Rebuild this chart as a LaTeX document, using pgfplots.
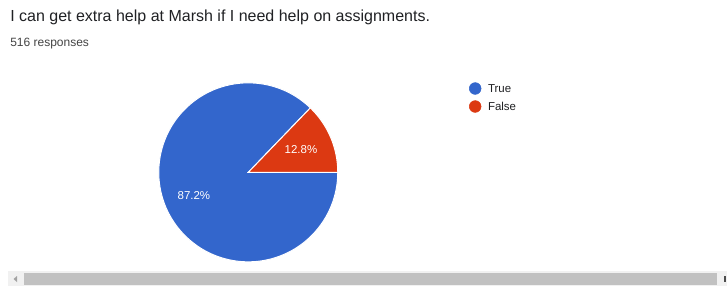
\documentclass[border=0pt]{standalone}
\usepackage{pgfplots}
\pgfplotsset{compat=1.18}
\usepackage{pgfplotstable}
\usepackage{fontspec}
\setmainfont{Liberation Sans}
\definecolor{pieblue}{HTML}{3366CC}
\definecolor{piered}{HTML}{DC3912}
\definecolor{titlegray}{HTML}{202124}
\definecolor{subgray}{HTML}{444444}
\definecolor{track}{HTML}{F1F1F1}
\definecolor{thumb}{HTML}{C1C1C1}
\definecolor{arrowgray}{HTML}{A3A3A3}

\pgfplotstableread{
label value
True 87.2
False 12.8
}\piedata

\begin{document}
\begin{tikzpicture}[x=0.75pt,y=0.75pt]
\fill[white] (0,0) rectangle (727,287);
\node[anchor=base west, inner sep=0, text=titlegray, font=\fontsize{12}{14}\selectfont] at (10,266) {I can get extra help at Marsh if I need help on assignments.};
\node[anchor=base west, inner sep=0, text=subgray, font=\fontsize{9}{10}\selectfont] at (10,241) {516 responses};
\pgfplotstablegetelem{0}{value}\of\piedata \let\vTrue\pgfplotsretval
\pgfplotstablegetelem{1}{value}\of\piedata \let\vFalse\pgfplotsretval
\pgfmathsetmacro\aFalse{3.6*\vFalse}
\pgfmathsetmacro\mFalse{\aFalse/2}
\pgfmathsetmacro\mTrue{\aFalse+3.6*\vTrue/2}
\def\R{67.125pt}
\begin{axis}[at={(186.2pt,86.0pt)}, anchor=origin, scale only axis,
  width=134.25pt, height=134.25pt, xmin=-1, xmax=1, ymin=-1, ymax=1,
  hide axis, clip=false,
  legend style={draw=none, fill=none, at={(rel axis cs:1.732,1.004)}, anchor=north west,
    font=\fontsize{8.6}{10}\selectfont, text=titlegray, row sep=4.3pt, inner sep=0pt,
    nodes={inner sep=0pt, text depth=0pt}},
  legend cell align=left,
  legend image code/.code={\fill[#1] (4.5pt,0pt) circle (4.4pt);},
  ]
\fill[pieblue, draw=white, line width=0.75pt] (axis cs:0,0) -- ++(\aFalse:\R) arc[start angle=\aFalse, end angle=360, radius=\R] -- cycle;
\fill[piered, draw=white, line width=0.75pt] (axis cs:0,0) -- ++(0:\R) arc[start angle=0, end angle=\aFalse, radius=\R] -- cycle;
\path (axis cs:0,0) ++(\mFalse:0.64*67.125pt) node[text=white, font=\fontsize{8.6}{10}\selectfont] {\vFalse\%};
\path (axis cs:0,0) ++(\mTrue:0.66*67.125pt) node[text=white, font=\fontsize{8.6}{10}\selectfont] {\vTrue\%};
\addlegendimage{pieblue}
\addlegendentry{\hspace{5pt}True}
\addlegendimage{piered}
\addlegendentry{\hspace{5pt}False}
\end{axis}
\fill[track] (8,1) rectangle (727,16);
\fill[thumb] (24,2) rectangle (717,14);
\fill[arrowgray] (13.5,8) -- (17,11) -- (17,5) -- cycle;
\fill[black!70] (723.5,5) rectangle (725.5,11);
\end{tikzpicture}
\end{document}
